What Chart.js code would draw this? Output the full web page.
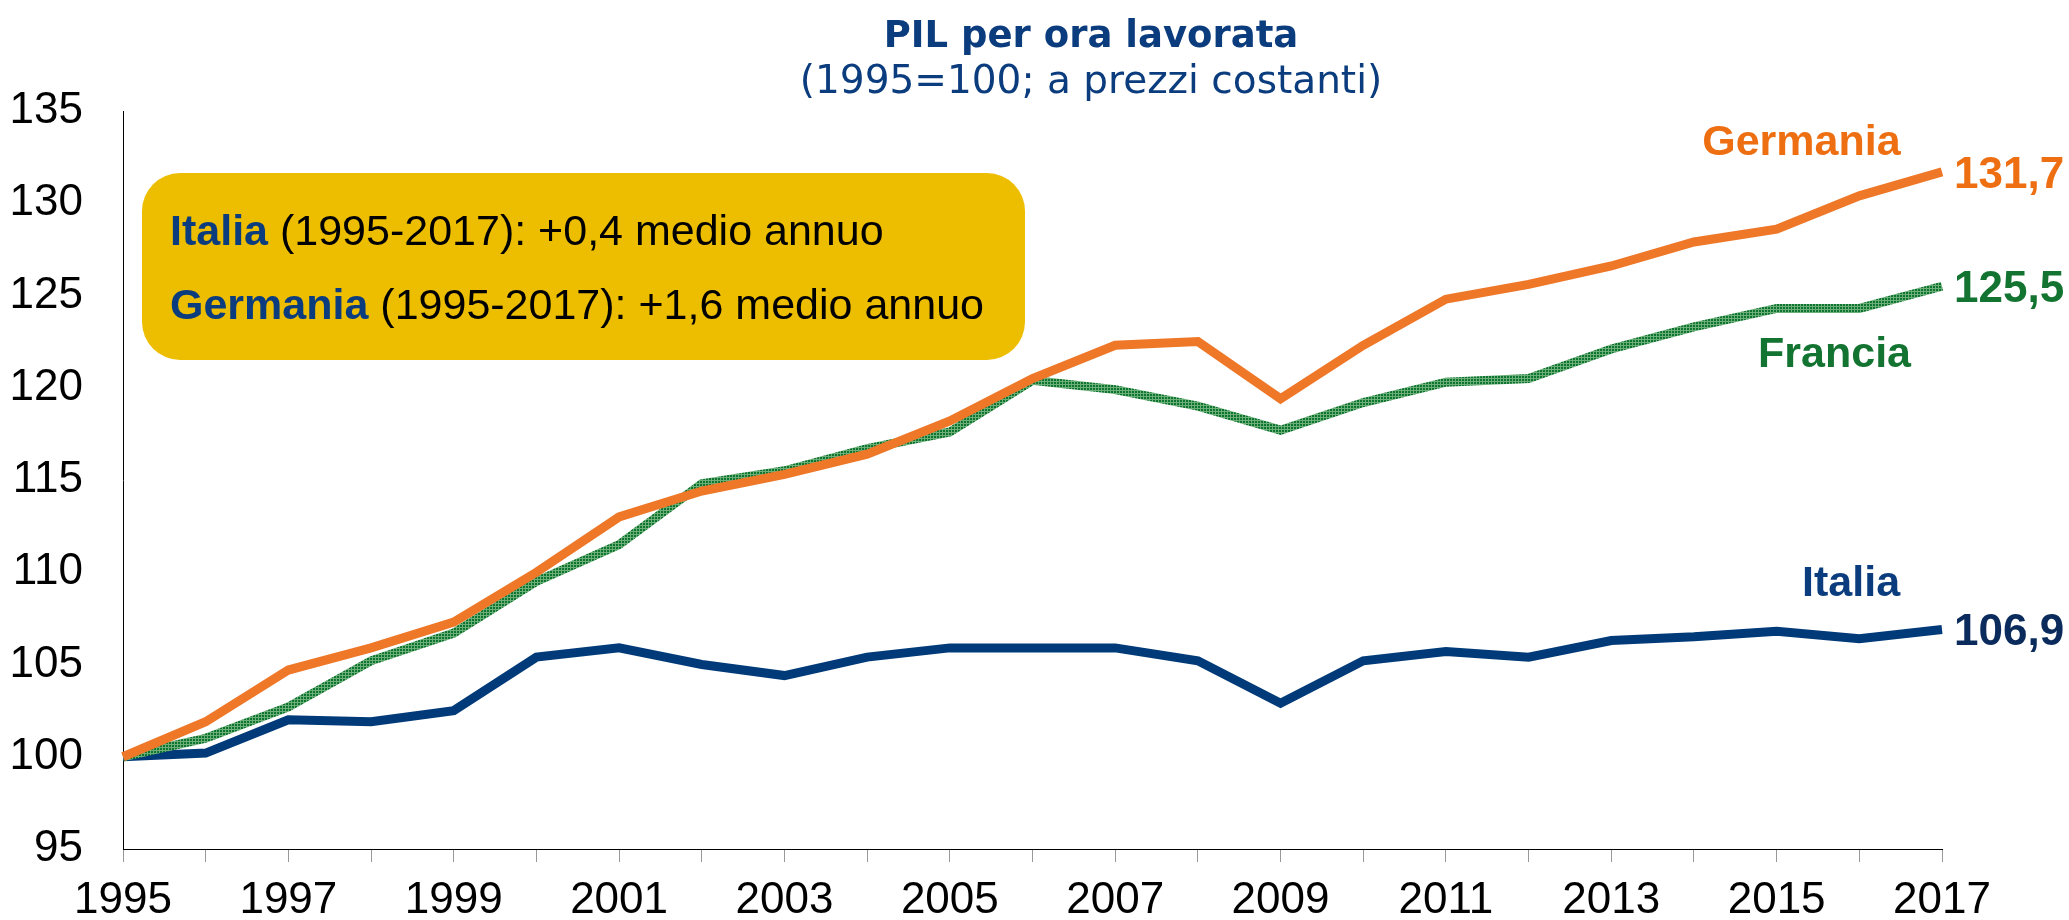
<!DOCTYPE html>
<html><head><meta charset="utf-8">
<script src="https://cdn.jsdelivr.net/npm/chart.js@4/dist/chart.umd.min.js"></script>
<style>html,body{margin:0;padding:0;background:#fff;overflow:hidden}</style>
</head><body>
<canvas id="c" width="2069" height="920"></canvas>
<script>
// ---- DATA ----
const years = ['1995','1996','1997','1998','1999','2000','2001','2002','2003','2004','2005','2006','2007','2008','2009','2010','2011','2012','2013','2014','2015','2016','2017'];
const shownYears = ['1995','1997','1999','2001','2003','2005','2007','2009','2011','2013','2015','2017'];
const yTicks = [95,100,105,110,115,120,125,130,135];
const germania = [100,101.9,104.7,105.9,107.3,110.0,113.0,114.4,115.3,116.4,118.2,120.5,122.3,122.5,119.4,122.3,124.8,125.6,126.6,127.9,128.6,130.4,131.7];
const francia  = [100,101.0,102.7,105.2,106.7,109.5,111.5,114.8,115.5,116.7,117.6,120.4,119.9,119.0,117.7,119.2,120.3,120.5,122.1,123.3,124.3,124.3,125.5];
const italia   = [100,100.2,102.0,101.9,102.5,105.4,105.9,105.0,104.4,105.4,105.9,105.9,105.9,105.2,102.9,105.2,105.7,105.4,106.3,106.5,106.8,106.4,106.9];
const seriesNames = ['Germania','Francia','Italia'];
const endLabels = ['131,7','125,5','106,9'];
const titleText = 'PIL per ora lavorata';
const subtitleText = '(1995=100; a prezzi costanti)';
const boxLines = [['Italia',' (1995-2017): +0,4 medio annuo'],['Germania',' (1995-2017): +1,6 medio annuo']];

// ---- STYLE ----
const ORANGE='#EE7728', NAVY='#003A78', NAVYTXT='#0B3C7D';
const FONT='"Liberation Sans", Arial, sans-serif';

function greenPattern(){
  const p=document.createElement('canvas'); p.width=3; p.height=3;
  const g=p.getContext('2d');
  g.fillStyle='#0E7530'; g.fillRect(0,0,3,3);
  g.fillStyle='#6DAF78'; g.fillRect(0,0,3,1); g.fillRect(0,0,1,3);
  return g.createPattern(p,'repeat');
}

const ctx=document.getElementById('c').getContext('2d');

const annot = {
  id:'annot',
  afterDraw(chart){
    const c=chart.ctx, xs=chart.scales.x, ys=chart.scales.y;
    c.save();
    // title
    c.textAlign='center'; c.textBaseline='alphabetic';
    c.fillStyle=NAVYTXT;
    c.font='bold 37px "DejaVu Sans", sans-serif';
    c.fillText(titleText,1091,47);
    c.font='39px "DejaVu Sans", sans-serif';
    c.fillText(subtitleText,1091,93);
    // box
    const bx=142, by=173, bw=883, bh=187, r=38;
    c.fillStyle='#EDBE00';
    c.beginPath(); c.roundRect(bx,by,bw,bh,r); c.fill();
    c.textAlign='left';
    const baselines=[245,319];
    boxLines.forEach((ln,i)=>{
      c.font='bold 43px '+FONT; c.fillStyle=NAVYTXT;
      c.fillText(ln[0],170,baselines[i]);
      const w=c.measureText(ln[0]).width;
      c.font='43px '+FONT; c.fillStyle='#000';
      c.fillText(ln[1],170+w,baselines[i]);
    });
    // end value labels
    const endColors=['#EE6E12','#137330','#0A2B5C'];
    chart.data.datasets.forEach((ds,i)=>{
      const meta=chart.getDatasetMeta(i);
      const pt=meta.data[meta.data.length-1];
      c.font='bold 44px '+FONT; c.fillStyle=endColors[i]; c.textAlign='left';
      c.fillText(endLabels[i],pt.x+12,pt.y+16);
    });
    // series name labels
    const namePos=[[20.3,132.6],[20.7,121.1],[20.9,108.7]];
    const nameColors=['#EE6E12','#137330','#0B3C7D'];
    c.textAlign='center';
    namePos.forEach((p,i)=>{
      c.font='bold 43px '+FONT; c.fillStyle=nameColors[i];
      const x=xs.left+(xs.right-xs.left)*p[0]/(years.length-1);
      c.fillText(seriesNames[i],x,ys.getPixelForValue(p[1]));
    });
    c.restore();
  }
};

const lineOpts={borderWidth:9,pointRadius:0,tension:0,borderJoinStyle:'miter',borderCapStyle:'butt'};
new Chart(ctx,{
  type:'line',
  data:{labels:years,datasets:[
    Object.assign({label:'Germania',data:germania,borderColor:ORANGE},lineOpts),
    Object.assign({label:'Francia',data:francia,borderColor:greenPattern()},lineOpts),
    Object.assign({label:'Italia',data:italia,borderColor:NAVY},lineOpts)
  ]},
  options:{
    responsive:false, animation:false, devicePixelRatio:1,
    layout:{padding:{top:111,right:127,bottom:0,left:0}},
    plugins:{legend:{display:false},title:{display:false},tooltip:{enabled:false}},
    scales:{
      x:{
        offset:false,
        grid:{display:true,drawOnChartArea:false,drawTicks:true,tickLength:13,tickColor:'#999',tickWidth:1},
        border:{display:true,color:'#000',width:1},
        ticks:{autoSkip:false,maxRotation:0,minRotation:0,padding:12,color:'#000',font:{family:FONT,size:44},
          callback:function(v,i){const l=this.getLabelForValue(v);return shownYears.includes(l)?l:'';}},
        afterFit(s){s.height=71;}
      },
      y:{
        min:yTicks[0],max:yTicks[yTicks.length-1],
        afterBuildTicks(s){s.ticks=yTicks.map(v=>({value:v}));},
        grid:{display:false,drawTicks:false},
        border:{display:true,color:'#000',width:1},
        ticks:{padding:40,color:'#000',font:{family:FONT,size:44}},
        afterFit(s){s.width=123;}
      }
    }
  },
  plugins:[annot]
});
</script>
</body></html>
